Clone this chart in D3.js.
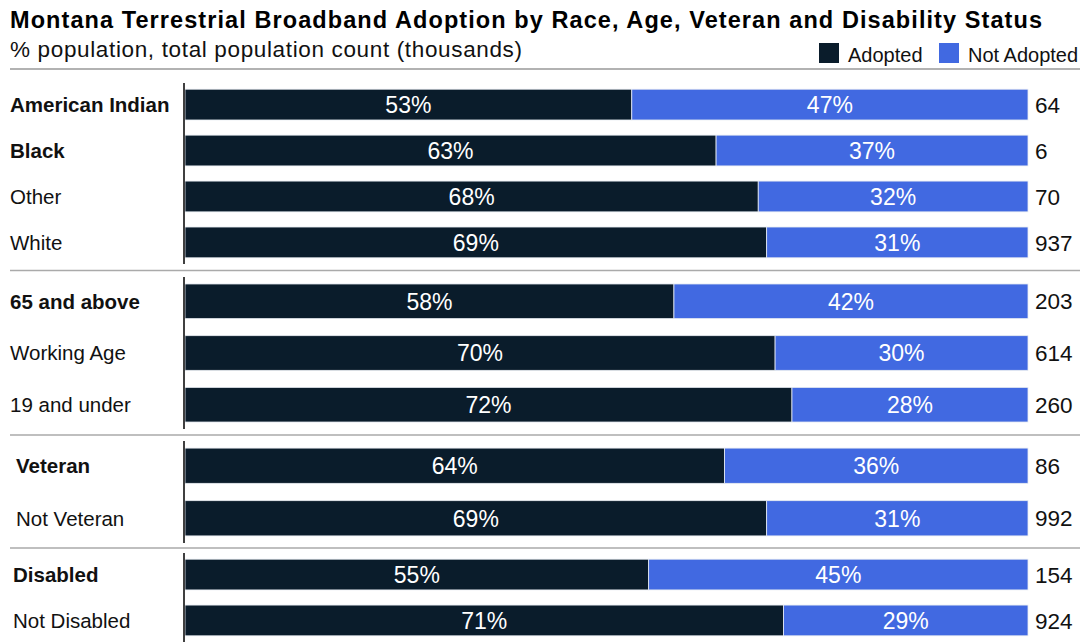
<!DOCTYPE html>
<html>
<head>
<meta charset="utf-8">
<script src="https://cdn.jsdelivr.net/npm/d3@7"></script>
<style>
  html, body { margin: 0; padding: 0; background: #fff; }
  svg { display: block; font-family: "Liberation Sans", Arial, sans-serif; }
</style>
</head>
<body>
<svg id="chart" width="1086" height="642"></svg>
<script>
// Broadband adoption shares by demographic group (percent) and population (thousands)
const categories = ["American Indian", "Black", "Other", "White",
  "65 and above", "Working Age", "19 and under",
  "Veteran", "Not Veteran",
  "Disabled", "Not Disabled"];
const groups = ["Race", "Race", "Race", "Race",
  "Age", "Age", "Age",
  "Veteran", "Veteran",
  "Disability", "Disability"];
const adopted = [53, 63, 68, 69, 58, 70, 72, 64, 69, 55, 71];
const notAdopted = [47, 37, 32, 31, 42, 30, 28, 36, 31, 45, 29];
const population = [64, 6, 70, 937, 203, 614, 260, 86, 992, 154, 924];
const emphasized = [true, true, false, false, true, false, false, true, false, true, false];
const seriesNames = ["Adopted", "Not Adopted"];
const seriesColors = ["#0a1c2b", "#4169e1"];

const groupOrder = ["Race", "Age", "Veteran", "Disability"];

// Panel geometry for each group block
const panelLayout = {
  Race:       { top: 83,  bottom: 264, labelX: 10 },
  Age:        { top: 277, bottom: 429, labelX: 10 },
  Veteran:    { top: 441, bottom: 543, labelX: 16 },
  Disability: { top: 553, bottom: 642, labelX: 13 }
};

const rows = categories.map((c, i) => ({
  category: c, group: groups[i], adopted: adopted[i], notAdopted: notAdopted[i],
  population: population[i], bold: emphasized[i]
}));

const svg = d3.select("#chart");
const axisX = 184;
const x = d3.scaleLinear().domain([0, 100]).range([axisX + 1, 1028]);

// Title, subtitle
svg.append("text").attr("x", 10).attr("y", 28)
  .attr("font-size", 23.5).attr("font-weight", "bold").attr("fill", "#000")
  .attr("textLength", 1032).attr("lengthAdjust", "spacing")
  .text("Montana Terrestrial Broadband Adoption by Race, Age, Veteran and Disability Status");
svg.append("text").attr("x", 10).attr("y", 57)
  .attr("font-size", 22.5).attr("fill", "#111")
  .attr("textLength", 512).attr("lengthAdjust", "spacing")
  .text("% population, total population count (thousands)");

// Legend
const legendX = [819, 939];
seriesNames.forEach((name, i) => {
  svg.append("rect").attr("x", legendX[i]).attr("y", 43).attr("width", 20).attr("height", 20)
    .attr("fill", seriesColors[i]);
  svg.append("text").attr("x", legendX[i] + 29).attr("y", 62)
    .attr("font-size", 20).attr("fill", "#111").text(name);
});

// Header rule
svg.append("line").attr("x1", 10).attr("x2", 1080).attr("y1", 69).attr("y2", 69)
  .attr("stroke", "#999").attr("stroke-width", 1.5);

groupOrder.forEach((g, gi) => {
  const layout = panelLayout[g];
  const data = rows.filter(r => r.group === g);
  const y = d3.scaleBand().domain(data.map(d => d.category))
    .range([layout.top, layout.bottom]).paddingInner(0.33).paddingOuter(0.135);
  const panel = svg.append("g");

  const stack = d3.stack().keys(["adopted", "notAdopted"])(data);
  stack.forEach((layer, li) => {
    panel.selectAll(null).data(layer).enter().append("rect")
      .attr("x", d => x(d[0]))
      .attr("width", d => x(d[1]) - x(d[0]))
      .attr("y", d => y(d.data.category))
      .attr("height", y.bandwidth())
      .attr("fill", seriesColors[li])
      .attr("stroke", "#e8ecf2").attr("stroke-width", 0.8);

    panel.selectAll(null).data(layer).enter().append("text")
      .attr("x", d => (x(d[0]) + x(d[1])) / 2)
      .attr("y", d => y(d.data.category) + y.bandwidth() / 2)
      .attr("dy", "0.36em").attr("text-anchor", "middle")
      .attr("font-size", 23).attr("fill", "#fff")
      .text(d => (d[1] - d[0]) + "%");
  });

  // Category labels
  panel.selectAll(null).data(data).enter().append("text")
    .attr("x", layout.labelX)
    .attr("y", d => y(d.category) + y.bandwidth() / 2)
    .attr("dy", "0.36em")
    .attr("font-size", 20.5)
    .attr("font-weight", d => d.bold ? "bold" : "normal")
    .attr("fill", "#111")
    .text(d => d.category);

  // Population counts
  panel.selectAll(null).data(data).enter().append("text")
    .attr("x", 1035)
    .attr("y", d => y(d.category) + y.bandwidth() / 2)
    .attr("dy", "0.36em")
    .attr("font-size", 22.5).attr("fill", "#111")
    .text(d => d3.format(",")(d.population));

  // Vertical baseline
  panel.append("line").attr("x1", axisX).attr("x2", axisX)
    .attr("y1", layout.top).attr("y2", layout.bottom)
    .attr("stroke", "#000").attr("stroke-width", 1.5);

  // Rule between groups
  if (gi < groupOrder.length - 1) {
    const next = panelLayout[groupOrder[gi + 1]];
    const ry = (layout.bottom + next.top) / 2;
    svg.append("line").attr("x1", 10).attr("x2", 1080).attr("y1", ry).attr("y2", ry)
      .attr("stroke", "#aaa").attr("stroke-width", 1.5);
  }
});
</script>
</body>
</html>
